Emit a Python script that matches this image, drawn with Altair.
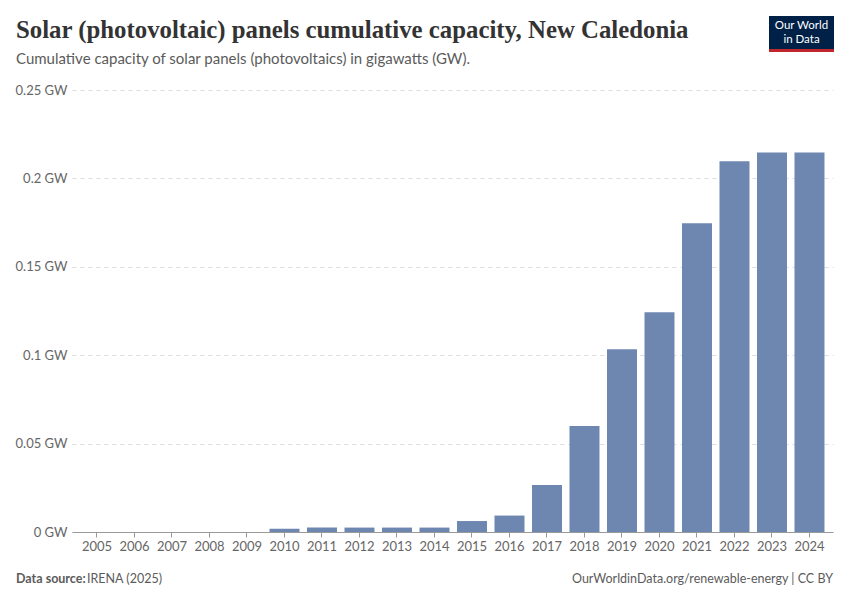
import altair as alt
import pandas as pd

years = [str(y) for y in range(2005, 2025)]
capacity_gw = [0.0, 0.0, 0.0, 0.0, 0.0, 0.0019, 0.0025, 0.0025, 0.0025, 0.0025,
               0.0062, 0.0093, 0.0266, 0.0600, 0.1033, 0.1243, 0.1746, 0.2097, 0.2146, 0.2146]
y_ticks = [0, 0.05, 0.1, 0.15, 0.2, 0.25]

title_text = "Solar (photovoltaic) panels cumulative capacity, New Caledonia"
subtitle_text = "Cumulative capacity of solar panels (photovoltaics) in gigawatts (GW)."
source_label = "Data source:"
source_text = "IRENA (2025)"
url_text = "OurWorldinData.org/renewable-energy | CC BY"

df = pd.DataFrame({"year": years, "capacity": capacity_gw})

W, H = 761, 442
FONT = "Lato"

bars = alt.Chart(df).mark_bar(color="#6e87b0").encode(
    x=alt.X("year:O", title=None,
            scale=alt.Scale(paddingInner=0.2, paddingOuter=0.2467, align=0.54),
            axis=alt.Axis(labelAngle=0, labelFont=FONT, labelFontSize=13,
                          labelColor="#666666", tickColor="#999999", tickSize=5,
                          domainColor="#999999", labelPadding=3, grid=False)),
    y=alt.Y("capacity:Q", title=None,
            scale=alt.Scale(domain=[0, 0.25], nice=False),
            axis=alt.Axis(values=y_ticks, labelExpr="format(datum.value, '~g') + ' GW'",
                          labelFont=FONT, labelFontSize=13, labelColor="#666666",
                          labelPadding=5, tickSize=0, domain=False,
                          grid=True, gridColor="#dddddd", gridDash=[4, 4])),
)

one = alt.Data(values=[{}])

def txt(text, x, y, size, color="#5b5b5b", weight="normal", align="left", font=FONT, baseline="alphabetic"):
    return alt.Chart(one).mark_text(
        text=text, font=font, fontSize=size, fontWeight=weight, color=color,
        align=align, baseline=baseline
    ).encode(x=alt.value(x), y=alt.value(y))

title = txt(title_text, -56, -52, 24.8, color="#333333", weight="bold", font="Liberation Serif")
subtitle = txt(subtitle_text, -56, -26.5, 15)
src1 = txt(source_label, -56, 493, 12.5, weight="bold")
src2 = txt(source_text, 15, 493, 12.5)
url = txt(url_text, 761, 493, 12.5, align="right")

logo_box = alt.Chart(one).mark_rect(color="#002147").encode(
    x=alt.value(697), x2=alt.value(762), y=alt.value(-74), y2=alt.value(-38))
logo_red = alt.Chart(one).mark_rect(color="#c0272d").encode(
    x=alt.value(697), x2=alt.value(762), y=alt.value(-41), y2=alt.value(-38))
logo1 = txt("Our World", 729.5, -64, 11.5, color="#ffffff", align="center", baseline="middle")
logo2 = txt("in Data", 729.5, -50, 11.5, color="#ffffff", align="center", baseline="middle")

chart = alt.layer(
    bars, title, subtitle, src1, src2, url, logo_box, logo_red, logo1, logo2
).properties(
    width=W, height=H,
    background="#ffffff",
    autosize=alt.AutoSizeParams(type="none"),
    padding={"left": 64, "top": 82, "right": 9, "bottom": 60},
).configure_view(stroke=None, strokeWidth=0)

chart.save("out.html", embed_options={"renderer": "svg", "actions": False})
